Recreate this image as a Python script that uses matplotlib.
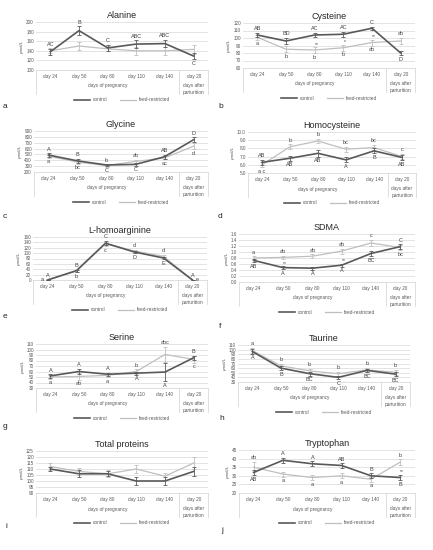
import matplotlib
matplotlib.use('Agg')
import matplotlib.pyplot as plt
from matplotlib.lines import Line2D

plt.rcParams['font.family'] = ['Liberation Sans', 'DejaVu Sans']

days = ['day 24', 'day 50', 'day 80', 'day 110', 'day 140', 'day 20']

# a  Alanine
ala_ctrl = [138, 182, 146, 154, 155, 129]
ala_ctrl_err = [6, 9, 6, 8, 8, 6]
ala_fr = [140, 150, 144, 140, 140, 143]
ala_fr_err = [5, 9, 5, 8, 8, 9]
ala_ctrl_lab = ['AC', 'B', 'C', 'ABC', 'ABC', 'C']
ala_fr_lab = ['', '', '', '', '', '']

# b  Cysteine
cys_ctrl = [104, 96, 104, 105, 113, 80]
cys_ctrl_err = [3, 4, 3, 3, 2, 3]
cys_fr = [101, 85, 84, 87, 94, 96]
cys_fr_err = [3, 4, 4, 4, 4, 4]
cys_ctrl_lab = ['AB', 'BD', 'AC', 'AC', 'C', 'D']
cys_fr_lab = ['a', 'b', 'b', 'b', 'ab', 'ab']
cys_stars = ['', '', '**', '*', '**', '']

# c  Glycine
gly_ctrl = [490, 390, 320, 330, 460, 750]
gly_ctrl_err = [30, 30, 20, 20, 30, 40]
gly_fr = [470, 370, 310, 380, 440, 640]
gly_fr_err = [25, 25, 20, 25, 25, 50]
gly_ctrl_lab = ['A', 'B', 'C', 'C', 'AB', 'D']
gly_fr_lab = ['a', 'bc', 'b', 'ab', 'ac', 'd']

# d  Homocysteine
hcy_ctrl = [6.3, 6.8, 7.4, 6.6, 7.7, 6.9]
hcy_ctrl_err = [0.3, 0.3, 0.4, 0.3, 0.3, 0.3]
hcy_fr = [6.0, 8.2, 8.9, 7.9, 8.1, 7.0]
hcy_fr_err = [0.3, 0.3, 0.3, 0.3, 0.3, 0.3]
hcy_ctrl_lab = ['AB', 'AB', 'AB', 'A', 'B', 'AB']
hcy_fr_lab = ['a c', 'b', 'b', 'bc', 'bc', 'c']

# e  L-homoarginine
har_ctrl = [0, 35, 137, 104, 82, 0]
har_ctrl_err = [1, 4, 8, 5, 5, 1]
har_fr = [0, 33, 135, 108, 88, 0]
har_fr_err = [1, 4, 8, 5, 5, 1]
har_ctrl_lab = ['A', 'B', 'C', 'D', 'E', 'A']
har_fr_lab = ['a', 'b', 'c', 'd', 'd', 'e']

# f  SDMA
sdma_ctrl = [0.72, 0.48, 0.46, 0.56, 0.95, 1.18]
sdma_ctrl_err = [0.06, 0.05, 0.05, 0.05, 0.08, 0.08]
sdma_fr = [0.80, 0.82, 0.86, 1.03, 1.30, 1.15]
sdma_fr_err = [0.06, 0.05, 0.06, 0.08, 0.10, 0.08]
sdma_ctrl_lab = ['AB', 'A', 'A', 'A', 'BC', 'C']
sdma_fr_lab = ['a', 'ab', 'ab', 'ab', 'c', 'bc']
sdma_stars = ['', '**', '', '**', '', '']

# g  Serine
ser_ctrl = [52, 60, 55, 57, 59, 85]
ser_ctrl_err = [3, 5, 3, 3, 16, 4]
ser_fr = [50, 51, 53, 60, 91, 82]
ser_fr_err = [3, 6, 3, 4, 14, 6]
ser_ctrl_lab = ['A', 'A', 'A', 'A', 'A', 'B']
ser_fr_lab = ['a', 'ab', 'a', 'b', 'abc', 'c']

# h  Taurine
tau_ctrl = [96, 60, 48, 40, 55, 47]
tau_ctrl_err = [5, 4, 4, 4, 4, 5]
tau_fr = [98, 65, 54, 48, 56, 51]
tau_fr_err = [6, 5, 4, 4, 4, 5]
tau_ctrl_lab = ['A', 'B', 'BC', 'C', 'BC', 'BC']
tau_fr_lab = ['a', 'b', 'b', 'b', 'b', 'b']

# i  Total proteins
tp_ctrl = [110, 106, 106, 100, 100, 108]
tp_ctrl_err = [2, 3, 2, 3, 3, 4]
tp_fr = [112, 108, 106, 110, 104, 115]
tp_fr_err = [3, 3, 3, 3, 3, 5]

# j  Tryptophan
trp_ctrl = [32, 39, 37, 36, 30, 29]
trp_ctrl_err = [1.5, 1.5, 1.5, 1.2, 1.5, 1.5]
trp_fr = [35, 31, 29, 30, 28, 38]
trp_fr_err = [3, 1.5, 1.5, 1.5, 1.5, 1.5]
trp_ctrl_lab = ['AB', 'A', 'A', 'AB', 'B', 'B']
trp_fr_lab = ['ab', 'a', 'a', 'a', 'a', 'b']
trp_stars = ['', '', '', '', '', '**']

W, H = 433, 550
C_CTRL = '#595959'
C_FR = '#bfbfbf'
C_GRID = '#d9d9d9'
C_TXT = '#595959'

fig = plt.figure(figsize=(W / 100, H / 100), dpi=100)
fig.patch.set_facecolor('white')


def panel(x0, x1, ytop, ybot, title, ctrl, ctrl_err, fr, fr_err, ylim, step,
          fmt='{:.0f}', ctrl_lab=None, ctrl_side=None, fr_lab=None, fr_side=None,
          stars=None, star_on='fr', letter='a', letter_xy=(0, 0)):
    ax = fig.add_axes([x0 / W, 1 - ybot / H, (x1 - x0) / W, (ybot - ytop) / H])
    h = ybot - ytop
    x = list(range(6))
    ax.errorbar(x, fr, yerr=fr_err, color=C_FR, lw=0.9, elinewidth=0.6,
                capsize=1.3, capthick=0.6, zorder=3)
    ax.errorbar(x, ctrl, yerr=ctrl_err, color=C_CTRL, lw=1.2, elinewidth=0.6,
                capsize=1.3, capthick=0.6, zorder=4)
    ax.set_xlim(-0.5, 5.5)
    ax.set_ylim(*ylim)
    ticks = []
    v = ylim[0]
    while v <= ylim[1] + 1e-9:
        ticks.append(v)
        v += step
    ax.set_yticks(ticks)
    ax.set_yticklabels([fmt.format(t) for t in ticks])
    ax.set_xticks([])
    ax.tick_params(axis='y', length=0, labelsize=3.3, labelcolor=C_TXT, pad=1.5)
    ax.grid(axis='y', color=C_GRID, lw=0.5)
    ax.set_axisbelow(True)
    for s in ax.spines.values():
        s.set_visible(False)
    ax.set_ylabel('µmol/L', fontsize=3.2, color=C_TXT, labelpad=1.5)
    ax.set_title(title, fontsize=6.5, color='#262626', pad=3)

    # significance letters: 1 above, -1 below, 'L' left, 'R' right
    def put(vals, errs, labs, sides):
        if labs is None:
            return
        for i, t in enumerate(labs):
            if not t:
                continue
            sd = sides[i]
            if sd == 'L' or sd == 'R':
                dx = -2.5 if sd == 'L' else 2.5
                ax.annotate(t, (i, vals[i]), xytext=(dx, 0), textcoords='offset points',
                            ha='right' if sd == 'L' else 'left', va='center',
                            fontsize=4, color='#404040', zorder=6)
                continue
            y = vals[i] + sd * errs[i]
            ax.annotate(t, (i, y), xytext=(0, 1.2 * sd), textcoords='offset points',
                        ha='center', va='bottom' if sd > 0 else 'top',
                        fontsize=4, color='#404040', zorder=6)
    put(ctrl, ctrl_err, ctrl_lab, ctrl_side)
    put(fr, fr_err, fr_lab, fr_side)
    if stars is not None:
        vals, errs = (fr, fr_err) if star_on == 'fr' else (ctrl, ctrl_err)
        for i, t in enumerate(stars):
            if t:
                ax.annotate(t, (i, vals[i] + errs[i]), xytext=(1.5, 0.3),
                            textcoords='offset points', ha='center', va='bottom',
                            fontsize=3.6, color='#404040', zorder=6)

    # multi-level category axis
    tr = ax.get_xaxis_transform()
    fy = lambda px: -px / h
    ax.plot([-0.5, 5.5], [0, 0], color=C_GRID, lw=0.6, transform=tr, clip_on=False)
    for xv in (-0.5, 4.5, 5.5):
        ax.plot([xv, xv], [0, fy(24)], color=C_GRID, lw=0.6, transform=tr, clip_on=False)
    for i, d in enumerate(days):
        ax.text(i, fy(6.5), d, transform=tr, ha='center', va='center',
                fontsize=3.4, color=C_TXT)
    ax.text(2, fy(16), 'days of pregnancy', transform=tr, ha='center', va='center',
            fontsize=3.4, color=C_TXT)
    ax.text(5, fy(19), 'days after\nparturition', transform=tr, ha='center',
            va='center', fontsize=3.4, color=C_TXT, linespacing=1.3)
    handles = [Line2D([], [], color=C_CTRL, lw=1.2), Line2D([], [], color=C_FR, lw=0.9)]
    ax.legend(handles, ['control', 'feed-restricted'], loc='center',
              bbox_to_anchor=(0.5, fy(30)), ncol=2, frameon=False, fontsize=3.4,
              handlelength=3.5, handletextpad=0.6, columnspacing=2.5,
              labelcolor=C_TXT)
    fig.text(letter_xy[0] / W, 1 - letter_xy[1] / H, letter, fontsize=6,
             color='#262626', ha='left', va='center')
    return ax


up = [1] * 6
dn = [-1] * 6

panel(36, 208, 22, 70, 'Alanine', ala_ctrl, ala_ctrl_err, ala_fr, ala_fr_err,
      (100, 200), 20, ctrl_lab=ala_ctrl_lab, ctrl_side=[1, 1, 1, 1, 1, -1],
      fr_lab=ala_fr_lab, fr_side=dn, letter='a', letter_xy=(3, 107))
panel(243, 415, 23, 68, 'Cysteine', cys_ctrl, cys_ctrl_err, cys_fr, cys_fr_err,
      (60, 120), 10, ctrl_lab=cys_ctrl_lab, ctrl_side=[1, 1, 1, 1, 1, -1],
      fr_lab=cys_fr_lab, fr_side=[-1, -1, -1, -1, -1, 1], stars=cys_stars,
      letter='b', letter_xy=(218, 107))
panel(34, 208, 131, 172, 'Glycine', gly_ctrl, gly_ctrl_err, gly_fr, gly_fr_err,
      (200, 900), 100, ctrl_lab=gly_ctrl_lab, ctrl_side=[1, 1, -1, -1, 1, 1],
      fr_lab=gly_fr_lab, fr_side=[-1, -1, 1, 1, -1, -1],
      letter='c', letter_xy=(3, 217))
panel(248, 416, 132, 173, 'Homocysteine', hcy_ctrl, hcy_ctrl_err, hcy_fr, hcy_fr_err,
      (5.0, 10.0), 1.0, fmt='{:.1f}', ctrl_lab=hcy_ctrl_lab,
      ctrl_side=[1, -1, -1, -1, -1, -1], fr_lab=hcy_fr_lab, fr_side=[-1, 1, 1, 1, 1, 1],
      letter='d', letter_xy=(218, 217))
panel(33, 207, 237, 280, 'L-homoarginine', har_ctrl, har_ctrl_err, har_fr, har_fr_err,
      (0, 160), 20, ctrl_lab=har_ctrl_lab, ctrl_side=[1, 1, 1, -1, -1, 1],
      fr_lab=har_fr_lab, fr_side=['L', -1, -1, 1, 1, 'R'],
      letter='e', letter_xy=(3, 317))
panel(239, 415, 234, 282, 'SDMA', sdma_ctrl, sdma_ctrl_err, sdma_fr, sdma_fr_err,
      (0.0, 1.6), 0.2, fmt='{:.1f}', ctrl_lab=sdma_ctrl_lab,
      ctrl_side=[-1, -1, -1, -1, -1, 1], fr_lab=sdma_fr_lab, fr_side=[1, 1, 1, 1, 1, -1],
      stars=sdma_stars, star_on='ctrl', letter='f', letter_xy=(219, 327))
panel(36, 208, 344, 388, 'Serine', ser_ctrl, ser_ctrl_err, ser_fr, ser_fr_err,
      (30, 110), 10, ctrl_lab=ser_ctrl_lab, ctrl_side=[1, 1, 1, -1, -1, 1],
      fr_lab=ser_fr_lab, fr_side=[-1, -1, -1, 1, 1, -1],
      letter='g', letter_xy=(3, 427))
panel(238, 410, 345, 382, 'Taurine', tau_ctrl, tau_ctrl_err, tau_fr, tau_fr_err,
      (30, 110), 10, ctrl_lab=tau_ctrl_lab, ctrl_side=dn,
      fr_lab=tau_fr_lab, fr_side=up, letter='h', letter_xy=(219, 419))
panel(36, 208, 451, 493, 'Total proteins', tp_ctrl, tp_ctrl_err, tp_fr, tp_fr_err,
      (90, 125), 5, letter='i', letter_xy=(5, 527))
panel(239, 415, 450, 493, 'Tryptophan', trp_ctrl, trp_ctrl_err, trp_fr, trp_fr_err,
      (20, 45), 5, ctrl_lab=trp_ctrl_lab, ctrl_side=[-1, 1, 1, 1, 1, -1],
      fr_lab=trp_fr_lab, fr_side=[1, -1, -1, -1, -1, 1], stars=trp_stars,
      star_on='ctrl', letter='j', letter_xy=(221, 530))

fig.savefig('out.png', dpi=100, facecolor='white')
